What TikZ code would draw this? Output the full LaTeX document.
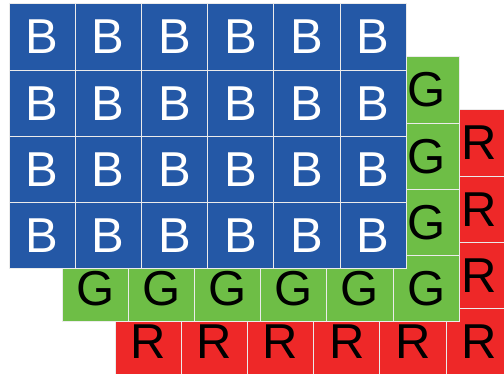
\documentclass[tikz,border=0pt]{standalone}
\usepackage{fontspec}
\setmainfont{Liberation Sans}
\usepackage{xcolor}

\definecolor{cellblue}{RGB}{36,88,166}
\definecolor{cellgreen}{RGB}{110,190,70}
\definecolor{cellred}{RGB}{238,40,40}

\begin{document}
\begin{tikzpicture}[
  x=1pt, y=-1pt,
  cell/.style={
    draw=white!92!black, line width=1pt, rectangle,
    minimum width=66.2pt, minimum height=66.2pt,
    inner sep=0pt, font=\fontsize{49}{49}\selectfont
  },
  bcell/.style={cell, fill=cellblue, text=white},
  gcell/.style={cell, fill=cellgreen, text=black},
  rcell/.style={cell, fill=cellred, text=black},
]
\clip (0,0) rectangle (504,374);

% red layer (back): only the L-shaped edge shows
\foreach \i/\j in {0/3,1/3,2/3,3/3,4/3,5/3,5/0,5/1,5/2}
  \node[rcell] (r-\i-\j) at ({148.1+66.2*\i},{143.1+66.2*\j}) {R};

% green layer
\foreach \i/\j in {0/3,1/3,2/3,3/3,4/3,5/3,5/0,5/1,5/2}
  \node[gcell] (g-\i-\j) at ({95.1+66.2*\i},{90.1+66.2*\j}) {G};

% blue layer (front)
\foreach \i in {0,...,5}
  \foreach \j in {0,...,3}
    \node[bcell] (b-\i-\j) at ({42.1+66.2*\i},{37.1+66.2*\j}) {B};

\end{tikzpicture}
\end{document}
